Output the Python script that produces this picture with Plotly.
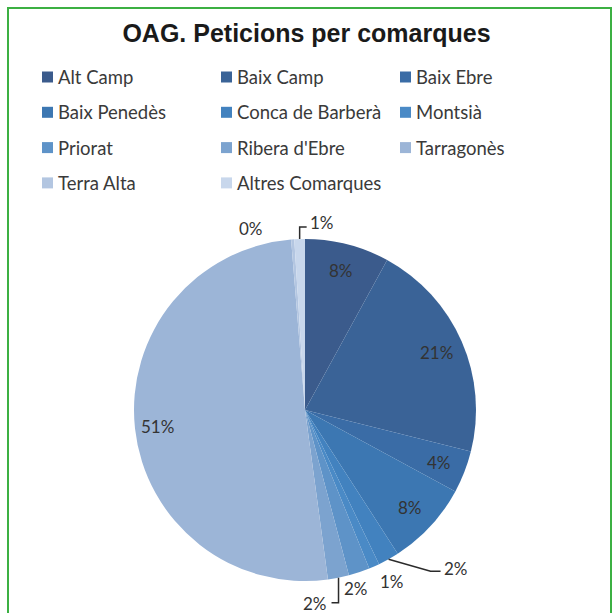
import math
import plotly.graph_objects as go

# Peticions per comarca (percentatge del total)
comarques = [
    "Alt Camp", "Baix Camp", "Baix Ebre", "Baix Penedès", "Conca de Barberà",
    "Montsià", "Priorat", "Ribera d'Ebre", "Tarragonès", "Terra Alta",
    "Altres Comarques",
]
peticions = [8, 21, 4, 8, 2, 1, 2, 2, 51, 0.3, 1]
colors = [
    "#3b5b8c", "#3a6397", "#3a6ca6", "#3c77b2", "#4282bf",
    "#4a8ac6", "#5e93c8", "#7ca3cf", "#9cb5d7", "#b3c6e1", "#c8d7ec",
]

W = H = 613
CX, CY, R = 305, 410, 171          # pie centre / radius in pixels
FONT = "Lato, 'Open Sans', sans-serif"
TXT = "#333333"


def paper(x, y):
    return x / W, 1 - y / H


def polar(r, theta):
    return CX + r * math.sin(theta), CY - r * math.cos(theta)


def label(x, y, text, size=17, xanchor="center", color=TXT):
    px, py = paper(x, y)
    return dict(x=px, y=py, xref="paper", yref="paper", text=text,
                showarrow=False, xanchor=xanchor, yanchor="middle",
                font=dict(family=FONT, size=size, color=color))


total = sum(peticions)
mids, cum = [], 0.0
for v in peticions:
    mids.append(2 * math.pi * (cum + v / 2) / total)
    cum += v
pct = [f"{round(v / total * 100)}%" for v in peticions]

fig = go.Figure(go.Pie(
    labels=comarques,
    values=peticions,
    sort=False,
    direction="clockwise",
    rotation=0,
    marker=dict(colors=colors, line=dict(width=0)),
    textinfo="none",
    hoverinfo="label+percent",
    showlegend=False,
    domain=dict(x=[(CX - R) / W, (CX + R) / W],
                y=[1 - (CY + R) / H, 1 - (CY - R) / H]),
))

annotations = []
shapes = []

# labels inside the larger slices
for i, v in enumerate(peticions):
    if v / total >= 0.03:
        rf = 0.87 if v / total > 0.5 else 0.84
        x, y = polar(rf * R, mids[i])
        annotations.append(label(x, y, pct[i]))

# outside labels for the small slices: (radius factor, dx, dy)
free_labels = {5: (1.1, 11, -1), 6: (1.1, -9, 0), 9: (1.1, -40, 6)}
for i, (rf, dx, dy) in free_labels.items():
    x, y = polar(rf * R, mids[i])
    annotations.append(label(x + dx, y + dy, pct[i]))

# labels with leader lines: (elbow offset, horizontal run, label dy)
leaders = {4: ((42, 12), 10, -3), 7: ((0, 25), -7, 1), 10: ((0, -12), 7, -5)}
for i, ((ex, ey), run, ldy) in leaders.items():
    x0, y0 = polar(R, mids[i])
    x1, y1 = x0 + ex, y0 + ey
    x2, y2 = x1 + run, y1
    pts = [paper(x0, y0), paper(x1, y1), paper(x2, y2)]
    path = "M {} {} L {} {} L {} {}".format(*[c for p in pts for c in p])
    shapes.append(dict(type="path", path=path, xref="paper", yref="paper",
                       line=dict(color="#2b2b2b", width=1.5)))
    if run > 0:
        annotations.append(label(x2 + 1, y2 + ldy, pct[i], xanchor="left"))
    else:
        annotations.append(label(x2 - 3, y2 + ldy, pct[i], xanchor="right"))

# legend: three columns, squares + names
LEG_X0, LEG_DX = 42, 179
LEG_Y0, LEG_DY = 77, 35.3
SQ = 11
for i, name in enumerate(comarques):
    row, col = divmod(i, 3)
    x = LEG_X0 + col * LEG_DX
    y = LEG_Y0 + row * LEG_DY
    sx0, sy0 = paper(x, y - SQ / 2)
    sx1, sy1 = paper(x + SQ, y + SQ / 2)
    shapes.append(dict(type="rect", xref="paper", yref="paper",
                       x0=sx0, y0=sy1, x1=sx1, y1=sy0,
                       fillcolor=colors[i], line=dict(width=0)))
    annotations.append(label(x + SQ + 3, y, name, size=18.5,
                             xanchor="left", color="#3a3a3a"))

# green frame
fx0, fy0 = paper(8, 8)
fx1, fy1 = paper(611, 640)
shapes.append(dict(type="rect", xref="paper", yref="paper",
                   x0=fx0, y0=fy1, x1=fx1, y1=fy0,
                   line=dict(color="#3cb043", width=2)))

fig.update_layout(
    width=W, height=H,
    margin=dict(l=0, r=0, t=0, b=0),
    paper_bgcolor="white",
    plot_bgcolor="white",
    title=dict(text="<b>OAG. Peticions per comarques</b>",
               x=0.5, xanchor="center", y=1 - 33 / H, yanchor="middle",
               font=dict(family="'Liberation Sans', Arial, sans-serif",
                         size=25, color="#1a1a1a")),
    annotations=annotations,
    shapes=shapes,
)

fig.write_html("out.html")
